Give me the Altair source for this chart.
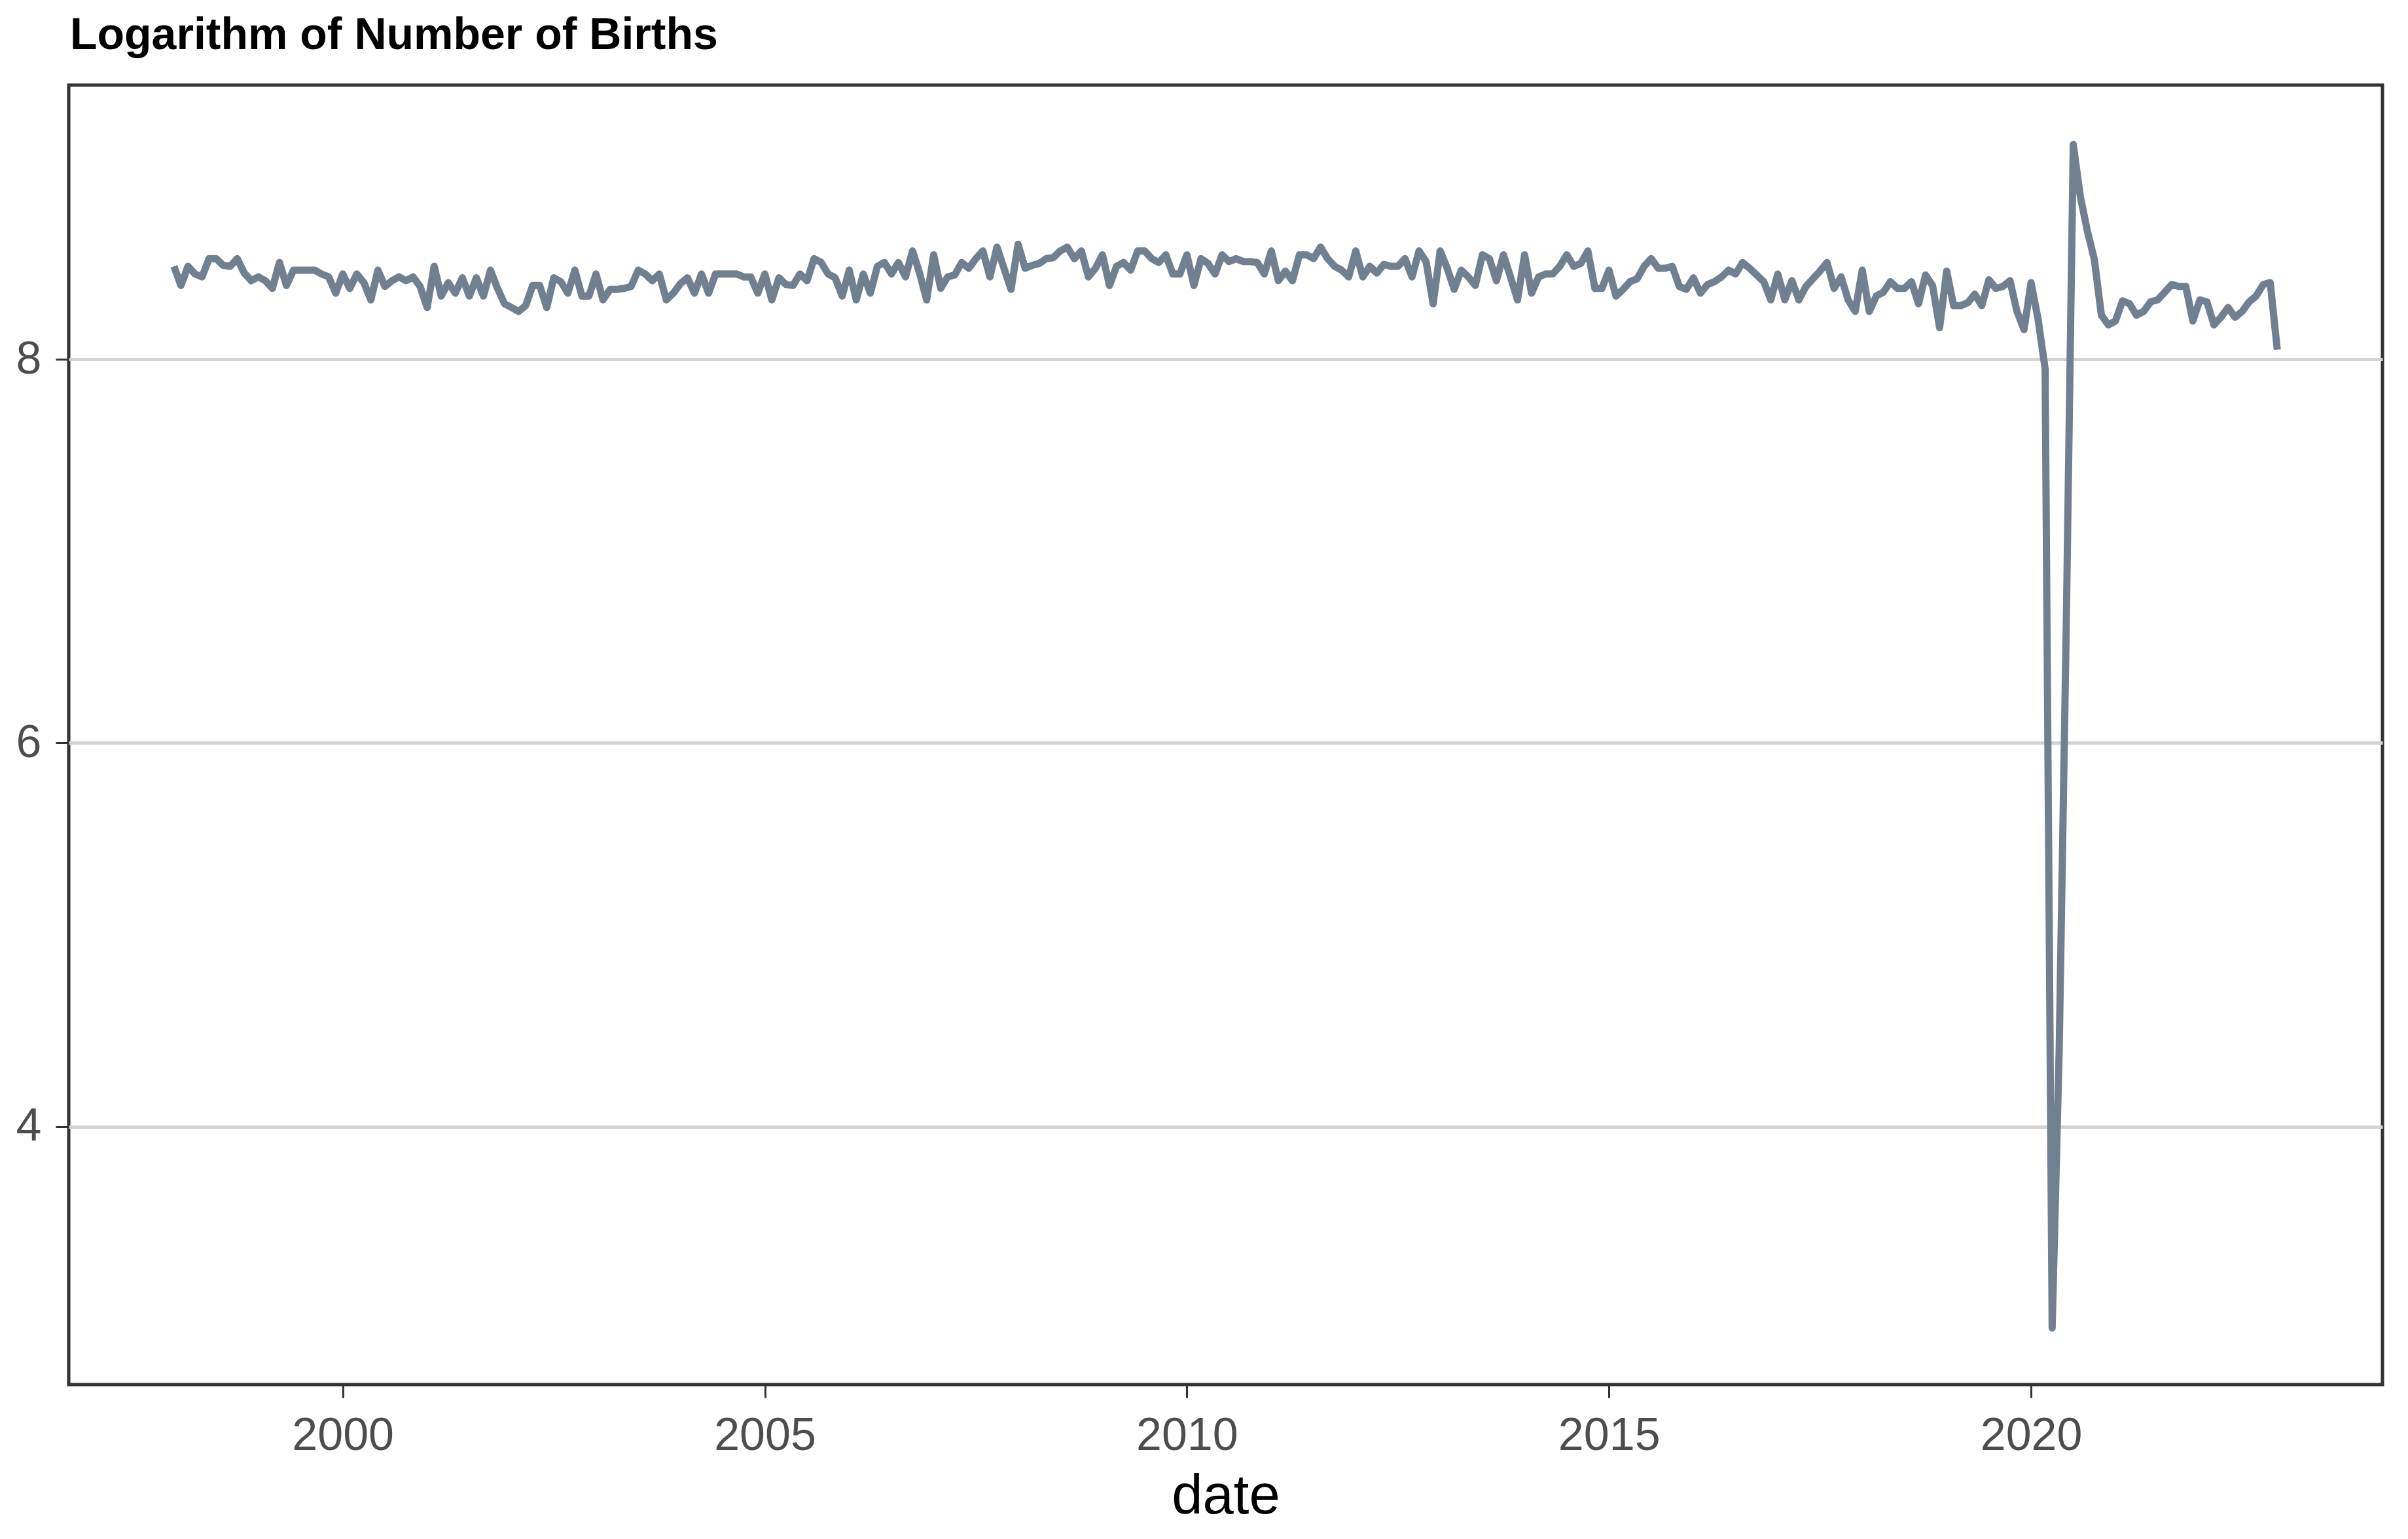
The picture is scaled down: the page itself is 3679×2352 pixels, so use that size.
import altair as alt
import pandas as pd

TITLE = "Logarithm of Number of Births"
X_TITLE = "date"
X_TICKS = [2000, 2005, 2010, 2015, 2020]
Y_TICKS = [4, 6, 8]

# monthly values (log of births), one list per year, Jan..Dec
y1998 = [8.485, 8.385, 8.485, 8.445, 8.43, 8.525, 8.525, 8.49, 8.485, 8.525, 8.45, 8.41]
y1999 = [8.43, 8.41, 8.37, 8.505, 8.385, 8.465, 8.465, 8.465, 8.465, 8.445, 8.43, 8.345]
y2000 = [8.445, 8.37, 8.445, 8.40, 8.31, 8.465, 8.38, 8.41, 8.43, 8.41, 8.43, 8.38]
y2001 = [8.27, 8.485, 8.33, 8.40, 8.345, 8.425, 8.33, 8.425, 8.33, 8.465, 8.37, 8.29]
y2002 = [8.27, 8.25, 8.28, 8.385, 8.385, 8.27, 8.425, 8.405, 8.345, 8.465, 8.33, 8.33]
y2003 = [8.445, 8.31, 8.365, 8.365, 8.37, 8.38, 8.465, 8.445, 8.41, 8.445, 8.31, 8.345]
y2004 = [8.395, 8.425, 8.345, 8.445, 8.345, 8.445, 8.445, 8.445, 8.445, 8.43, 8.43, 8.345]
y2005 = [8.445, 8.31, 8.425, 8.39, 8.385, 8.445, 8.41, 8.525, 8.505, 8.445, 8.425, 8.33]
y2006 = [8.465, 8.31, 8.445, 8.345, 8.485, 8.505, 8.445, 8.505, 8.43, 8.565, 8.45, 8.31]
y2007 = [8.545, 8.37, 8.43, 8.44, 8.505, 8.475, 8.525, 8.565, 8.43, 8.585, 8.475, 8.365]
y2008 = [8.60, 8.475, 8.49, 8.50, 8.525, 8.53, 8.565, 8.585, 8.525, 8.565, 8.43, 8.475]
y2009 = [8.545, 8.385, 8.485, 8.505, 8.465, 8.565, 8.565, 8.525, 8.505, 8.545, 8.445, 8.445]
y2010 = [8.545, 8.385, 8.525, 8.50, 8.445, 8.545, 8.51, 8.525, 8.51, 8.51, 8.505, 8.445]
y2011 = [8.565, 8.41, 8.46, 8.41, 8.545, 8.545, 8.525, 8.585, 8.525, 8.485, 8.465, 8.43]
y2012 = [8.565, 8.43, 8.485, 8.45, 8.495, 8.485, 8.485, 8.525, 8.43, 8.565, 8.51, 8.29]
y2013 = [8.565, 8.475, 8.365, 8.465, 8.43, 8.385, 8.545, 8.525, 8.41, 8.545, 8.43, 8.31]
y2014 = [8.545, 8.345, 8.43, 8.445, 8.445, 8.485, 8.545, 8.485, 8.50, 8.565, 8.37, 8.37]
y2015 = [8.465, 8.33, 8.365, 8.405, 8.42, 8.485, 8.525, 8.475, 8.475, 8.485, 8.38, 8.365]
y2016 = [8.425, 8.345, 8.39, 8.405, 8.43, 8.465, 8.445, 8.505, 8.475, 8.44, 8.405, 8.31]
y2017 = [8.445, 8.31, 8.41, 8.31, 8.38, 8.42, 8.46, 8.505, 8.37, 8.43, 8.31, 8.25]
y2018 = [8.465, 8.25, 8.33, 8.35, 8.405, 8.37, 8.37, 8.405, 8.29, 8.44, 8.385, 8.165]
y2019 = [8.46, 8.28, 8.28, 8.295, 8.34, 8.28, 8.415, 8.37, 8.38, 8.41, 8.25, 8.155]
y2020 = [8.40, 8.21, 7.95, 2.95, 4.4, 6.6, 9.12, 8.85, 8.67, 8.52, 8.23, 8.18]
y2021 = [8.20, 8.305, 8.29, 8.23, 8.25, 8.30, 8.31, 8.35, 8.39, 8.38, 8.38, 8.20]
y2022 = [8.31, 8.30, 8.18, 8.22, 8.27, 8.22, 8.25, 8.30, 8.33, 8.39, 8.40, 8.05]

YEARS = {
    1998: y1998, 1999: y1999, 2000: y2000, 2001: y2001, 2002: y2002,
    2003: y2003, 2004: y2004, 2005: y2005, 2006: y2006, 2007: y2007,
    2008: y2008, 2009: y2009, 2010: y2010, 2011: y2011, 2012: y2012,
    2013: y2013, 2014: y2014, 2015: y2015, 2016: y2016, 2017: y2017,
    2018: y2018, 2019: y2019, 2020: y2020, 2021: y2021, 2022: y2022,
}

rows = []
for yr, vals in YEARS.items():
    for i, v in enumerate(vals):
        rows.append({"date": yr + i / 12.0, "value": v})
df = pd.DataFrame(rows)

FONT = "Liberation Sans"

line = alt.Chart(df).mark_line(
    color="#708090", strokeWidth=11, strokeJoin="round", strokeCap="butt"
).encode(
    x=alt.X(
        "date:Q",
        scale=alt.Scale(domain=[1996.754, 2024.163], nice=False, zero=False),
        axis=alt.Axis(
            values=X_TICKS, format="d", title=X_TITLE, grid=False, domain=False,
            labelFontSize=70, labelColor="#4D4D4D", labelFont=FONT, labelPadding=24,
            tickSize=20, tickWidth=3, tickColor="#333333",
            titleFontSize=85, titleFontWeight="normal", titleColor="#000000",
            titleFont=FONT, titlePadding=16,
        ),
    ),
    y=alt.Y(
        "value:Q",
        scale=alt.Scale(domain=[2.655, 9.43], nice=False, zero=False),
        axis=alt.Axis(
            values=Y_TICKS, format="d", title=None, grid=True, domain=False,
            gridColor="#D3D3D3", gridWidth=5,
            labelFontSize=70, labelColor="#4D4D4D", labelFont=FONT, labelPadding=22,
            tickSize=20, tickWidth=3, tickColor="#333333",
        ),
    ),
)

title = alt.Chart(pd.DataFrame({"t": [TITLE]})).mark_text(
    align="left", baseline="alphabetic", fontSize=68, fontWeight="bold",
    font=FONT, color="#000000",
).encode(text="t:N", x=alt.value(2), y=alt.value(-55))

chart = alt.layer(line, title).properties(
    width=3535, height=1986,
    autosize=alt.AutoSizeParams(type="none"),
    padding={"left": 97, "top": 122, "right": 30, "bottom": 230},
).configure(
    background="white",
    view=alt.ViewConfig(stroke="#333333", strokeWidth=5),
)

chart.save("out.html", embed_options={"renderer": "svg", "actions": False})
